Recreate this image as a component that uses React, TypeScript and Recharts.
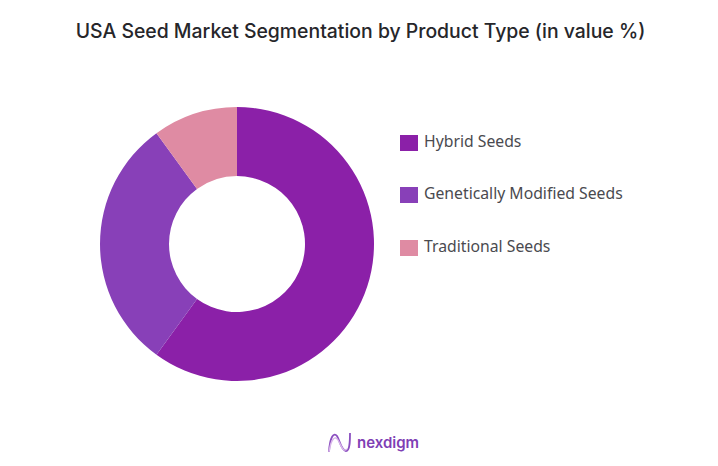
import React from "react";
import { PieChart, Pie, Cell, Legend } from "recharts";

const categories = ["Hybrid Seeds", "Genetically Modified Seeds", "Traditional Seeds"];
const values = [60, 30, 10];
const colors = ["#8B20A8", "#8840B8", "#DF8BA3"];
const title = "USA Seed Market Segmentation by Product Type (in value %)";
const brand = "nexdigm";

const data = categories.map((name, i) => ({ name, value: values[i] }));

const LegendBox = ({ payload }: any) => (
  <div>
    {(payload || []).map((p: any, i: number) => (
      <div key={p.value} style={{ position: "absolute", left: 0, top: [0, 52, 105][i], height: 24, width: 260, whiteSpace: "nowrap" }}>
        <span style={{ position: "absolute", left: 0, top: 5, width: 18, height: 16, background: p.color }} />
        <span style={{ position: "absolute", left: 24, top: 0, fontFamily: "'Noto Sans', sans-serif", fontSize: 15.75, lineHeight: "22px", color: "#4a4a4f" }}>
          {p.value}
        </span>
      </div>
    ))}
  </div>
);

export default function App() {
  return (
    <div style={{ position: "absolute", left: 0, top: 0, width: 718, height: 466, background: "#fff", overflow: "hidden" }}>
      <div style={{ position: "absolute", left: 0, top: 19, width: 721, textAlign: "center", fontFamily: "Inter, sans-serif", fontWeight: 500, fontSize: 19.4, lineHeight: "24px", color: "#26262a", whiteSpace: "nowrap" }}>
        {title}
      </div>
      <PieChart width={718} height={466} margin={{ top: 0, right: 0, bottom: 0, left: 0 }}>
        <Pie
          data={data}
          dataKey="value"
          nameKey="name"
          cx={237}
          cy={244}
          innerRadius={68}
          outerRadius={137}
          startAngle={90}
          endAngle={-270}
          stroke="none"
          isAnimationActive={false}
        >
          {data.map((d, i) => (
            <Cell key={d.name} fill={colors[i]} />
          ))}
        </Pie>
        <Legend itemSorter={null} content={<LegendBox />} wrapperStyle={{ position: "absolute", left: 400, top: 130, width: 260, height: 140 }} />
      </PieChart>
      <svg width={30} height={26} style={{ position: "absolute", left: 326, top: 430 }} fill="none">
        <path d="M3 22 C4 6 8 2 11 6 C14 11 15 20 20 21 C24 21 24 10 24 3" stroke="#8B4FC0" strokeWidth={1.8} />
        <path d="M3 22 C5 9 9 5 12 10 C15 15 17 23 21 19" stroke="#D9B6EA" strokeWidth={1.4} />
      </svg>
      <div style={{ position: "absolute", left: 357, top: 432, fontFamily: "Inter, sans-serif", fontWeight: 600, fontSize: 15, lineHeight: "22px", color: "#7F3FB5" }}>
        {brand}
      </div>
    </div>
  );
}
